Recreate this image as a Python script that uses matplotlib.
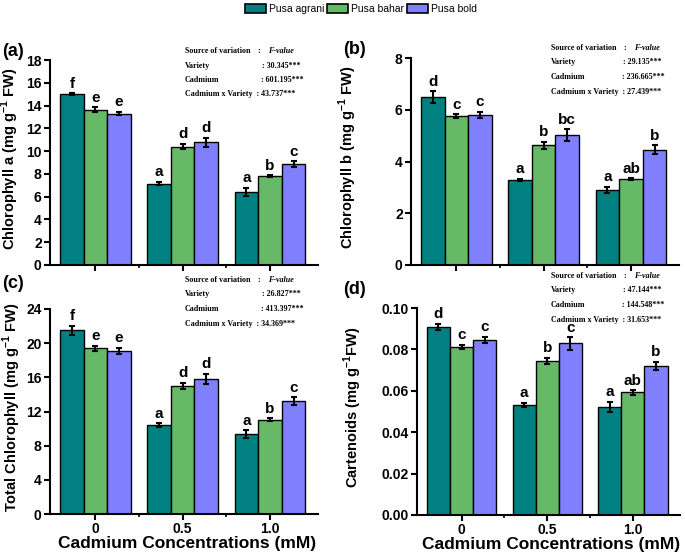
import numpy as np
import matplotlib
matplotlib.use("Agg")
import matplotlib.pyplot as plt
from matplotlib.patches import Patch
from matplotlib.ticker import MultipleLocator, FormatStrFormatter

plt.rcParams['font.family'] = ['Liberation Sans', 'DejaVu Sans']
plt.rcParams['mathtext.fontset'] = 'custom'
plt.rcParams['mathtext.bf'] = 'Liberation Sans:bold'

concentrations = ["0", "0.5", "1.0"]
varieties = ["Pusa agrani", "Pusa bahar", "Pusa bold"]
colors = ["#008080", "#66B966", "#8080FF"]

# values per variety (rows) at each Cd concentration (cols)
chl_a = [[15.0, 7.15, 6.45], [13.65, 10.4, 7.8], [13.3, 10.77, 8.85]]
chl_a_err = [[0.1, 0.15, 0.35], [0.2, 0.25, 0.1], [0.15, 0.4, 0.25]]
chl_a_let = [["f", "a", "a"], ["e", "d", "b"], ["e", "d", "c"]]

chl_b = [[6.5, 3.28, 2.9], [5.75, 4.63, 3.32], [5.8, 5.03, 4.46]]
chl_b_err = [[0.22, 0.05, 0.12], [0.08, 0.13, 0.03], [0.13, 0.22, 0.17]]
chl_b_let = [["d", "a", "a"], ["c", "b", "ab"], ["c", "bc", "b"]]

chl_t = [[21.5, 10.4, 9.35], [19.4, 15.0, 11.06], [19.1, 15.8, 13.25]]
chl_t_err = [[0.55, 0.2, 0.45], [0.3, 0.35, 0.15], [0.35, 0.6, 0.45]]
chl_t_let = [["f", "a", "a"], ["e", "d", "b"], ["e", "d", "c"]]

carot = [[0.091, 0.0532, 0.0523], [0.0813, 0.0744, 0.0592], [0.0847, 0.0829, 0.0720]]
carot_err = [[0.0015, 0.001, 0.0025], [0.001, 0.0015, 0.001], [0.0015, 0.003, 0.002]]
carot_let = [["d", "a", "a"], ["c", "b", "ab"], ["c", "c", "b"]]

fvals_a = ["30.345", "601.195", "43.737"]
fvals_b = ["29.135", "236.665", "27.439"]
fvals_c = ["26.827", "413.397", "34.369"]
fvals_d = ["47.144", "144.548", "31.653"]

W, H = 685, 555
fig = plt.figure(figsize=(W / 100, H / 100), dpi=100)


def panel(rect, vals, errs, lets, ymax, ystep, ylabel, ylab_x, tag, fvals, fpos, fmt,
          xlabel=False):
    ax = fig.add_axes(rect)
    x = np.arange(len(concentrations))
    w = 0.27
    for i in range(3):
        ax.bar(x + (i - 1) * w, vals[i], w, color=colors[i], edgecolor="black",
               linewidth=1.0, yerr=errs[i], capsize=2.5,
               error_kw=dict(elinewidth=1.5, capthick=1.5, ecolor="black"), zorder=2)
        for j in range(3):
            ax.text(x[j] + (i - 1) * w, vals[i][j] + errs[i][j] + ymax * 0.012, lets[i][j],
                    ha="center", va="bottom", fontsize=11, fontweight="bold")
    ax.set_xlim(-0.52, 2.55)
    ax.set_ylim(0, ymax)
    ax.yaxis.set_major_locator(MultipleLocator(ystep))
    ax.yaxis.set_major_formatter(FormatStrFormatter(fmt))
    ax.set_xticks(x)
    ax.set_xticks([0.5, 1.5], minor=True)
    for s in ["top", "right"]:
        ax.spines[s].set_visible(False)
    for s in ["left", "bottom"]:
        ax.spines[s].set_linewidth(1.5)
    ax.tick_params(axis="both", which="major", width=1.5, length=4, direction="out",
                   labelsize=10, pad=2)
    ax.tick_params(axis="x", which="minor", width=1.2, length=2.5)
    for lab in ax.get_yticklabels():
        lab.set_fontweight("bold")
    if xlabel:
        ax.set_xticklabels(concentrations, fontweight="bold", fontsize=10)
        ax.set_xlabel("Cadmium Concentrations (mM)", fontsize=12.5, fontweight="bold")
        ax.xaxis.set_label_coords(0.51, -0.105)
    else:
        ax.set_xticklabels([])
    ax.set_ylabel(ylabel, fontsize=10.5, fontweight="bold", va="center")
    ax.yaxis.set_label_coords(ylab_x, 0.52)
    fig.text(tag[0] / W, 1 - tag[1] / H, tag[2], fontsize=13, fontweight="bold",
             ha="left", va="center")
    fx, fy, fcol = fpos
    dy = 14.5
    tf = dict(family="Liberation Serif", fontsize=5.8, fontweight="bold", va="center")
    fig.text(fx / W, 1 - fy / H, "Source of variation", **tf)
    fig.text((fx + 72) / W, 1 - fy / H, ":", **tf)
    fig.text((fx + 83) / W, 1 - fy / H, "F-value", style="italic", **tf)
    fig.text(fx / W, 1 - (fy + dy) / H, "Variety", **tf)
    fig.text((fcol) / W, 1 - (fy + dy) / H, ": " + fvals[0] + "***", **tf)
    fig.text(fx / W, 1 - (fy + 2 * dy) / H, "Cadmium", **tf)
    fig.text((fcol - 1) / W, 1 - (fy + 2 * dy) / H, ": " + fvals[1] + "***", **tf)
    fig.text(fx / W, 1 - (fy + 3 * dy) / H, "Cadmium x Variety  : " + fvals[2] + "***", **tf)
    return ax


panel([50 / W, 1 - 265 / H, 268 / W, 205 / H], chl_a, chl_a_err, chl_a_let, 18, 2,
      r"Chlorophyll a (mg g$^{\mathbf{-1}}$ FW)", -0.148, (2, 51, "(a)"),
      fvals_a, (185, 51, 262), "%d")
panel([411 / W, 1 - 265 / H, 268 / W, 207 / H], chl_b, chl_b_err, chl_b_let, 8, 2,
      r"Chlorophyll b (mg g$^{\mathbf{-1}}$ FW)", -0.235, (343, 50, "(b)"),
      fvals_b, (551, 48, 623), "%d")
panel([50 / W, 1 - 514 / H, 268 / W, 205 / H], chl_t, chl_t_err, chl_t_let, 24, 4,
      r"Total Chlorophyll (mg g$^{\mathbf{-1}}$ FW)", -0.142, (2, 283, "(c)"),
      fvals_c, (185, 280, 262), "%d", xlabel=True)
panel([417 / W, 1 - 515 / H, 263 / W, 207 / H], carot, carot_err, carot_let, 0.10, 0.02,
      r"Cartenoids (mg g$^{\mathbf{-1}}$FW)", -0.245, (343, 290, "(d)"),
      fvals_d, (551, 276, 623), "%.2f", xlabel=True)

handles = [Patch(facecolor=c, edgecolor="black", linewidth=1.2) for c in colors]
fig.legend(handles, varieties, loc="center", bbox_to_anchor=(361 / W, 1 - 9 / H), ncol=3,
           frameon=False, fontsize=7.5, handlelength=2.0, handleheight=1.0,
           handletextpad=0.3, columnspacing=0.3, borderaxespad=0, borderpad=0)

fig.savefig("out.png", dpi=100)
